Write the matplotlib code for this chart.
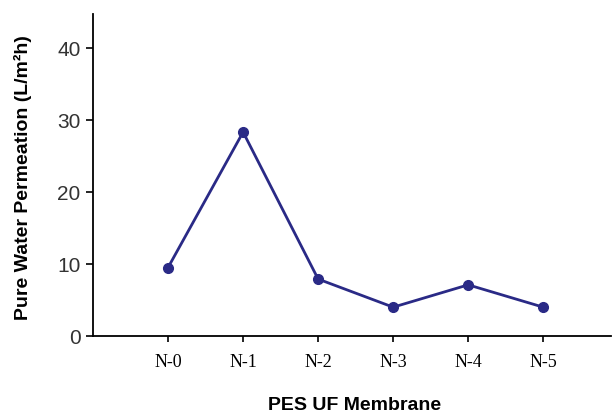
import matplotlib
matplotlib.use("Agg")
import matplotlib.pyplot as plt

categories = ["N-0", "N-1", "N-2", "N-3", "N-4", "N-5"]
values = [9.5, 28.3, 7.9, 4.0, 7.1, 4.0]
yticks = [0, 10, 20, 30, 40]

fig = plt.figure(figsize=(6.12, 4.14), dpi=100)
ax = fig.add_axes([0.152, 0.186, 0.846, 0.778])
x = list(range(len(categories)))
ax.plot(x, values, color="#2a2a86", lw=2, marker="o", ms=7)
ax.set_xlim(-1, 5.9)
ax.set_ylim(0, 44.7)
ax.set_xticks(x)
ax.set_xticklabels(categories, family="Liberation Serif", fontsize=13)
ax.set_yticks(yticks)
ax.set_yticklabels([str(v) for v in yticks], family="Liberation Sans", fontsize=15, color="#333333")
ax.spines["top"].set_visible(False)
ax.spines["right"].set_visible(False)
ax.spines["left"].set_linewidth(1.3)
ax.spines["bottom"].set_linewidth(1.3)
ax.tick_params(axis="y", length=5, width=1.2, direction="out", pad=4)
ax.tick_params(axis="x", length=4, width=1.2, direction="out", pad=8)
ax.set_ylabel("Pure Water Permeation (L/m²h)", family="Liberation Sans", fontweight="bold", fontsize=14)
ax.yaxis.set_label_coords(-(93 - 32) / (0.846 * 612), (337 - 178) / 322)
ax.set_xlabel("PES UF Membrane", family="Liberation Sans", fontweight="bold", fontsize=14)
ax.xaxis.set_label_coords((355 - 93) / (0.846 * 612), -(397 - 337) / 322)
fig.savefig("out.png", dpi=100)
